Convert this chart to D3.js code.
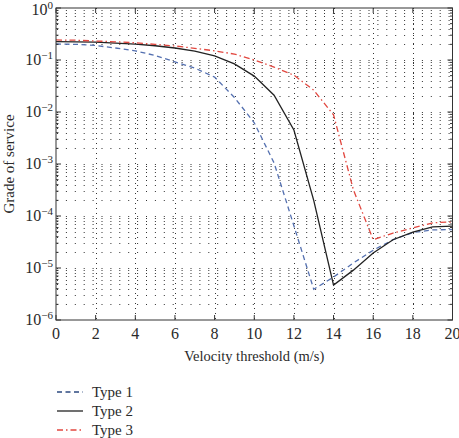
<!DOCTYPE html>
<html>
<head>
<meta charset="utf-8">
<script src="https://cdn.jsdelivr.net/npm/d3@7"></script>
<style>
  body { margin: 0; background: #fff; }
  svg { display: block; }
  text { font-family: "Liberation Serif", "DejaVu Serif", serif; fill: #2a2a2a; }
</style>
</head>
<body>
<svg id="chart" width="459" height="438"></svg>
<script>
// valori (un punto per ogni m/s)
const velocity = d3.range(0, 21);
const type1 = [0.203, 0.200, 0.190, 0.170, 0.150, 0.122, 0.092, 0.070, 0.047, 0.019, 6.2e-3,
    1.05e-3, 6.5e-5, 3.9e-6, 6.7e-6, 1.25e-5, 2.2e-5, 3.5e-5, 4.8e-5, 5.4e-5, 5.5e-5];
const type2 = [0.225, 0.224, 0.220, 0.212, 0.202, 0.188, 0.170, 0.148, 0.120, 0.084, 0.049,
    0.021, 4.5e-3, 2.0e-4, 4.7e-6, 9.1e-6, 1.95e-5, 3.5e-5, 4.9e-5, 6.2e-5, 6.4e-5];
const type3 = [0.243, 0.240, 0.232, 0.224, 0.214, 0.200, 0.186, 0.168, 0.150, 0.130, 0.100,
    0.073, 0.051, 0.0263, 8.8e-3, 3.2e-4, 3.5e-5, 4.7e-5, 5.9e-5, 7.4e-5, 7.7e-5];
const xTicks = [0, 2, 4, 6, 8, 10, 12, 14, 16, 18, 20];
const yExponents = [0, -1, -2, -3, -4, -5, -6];
const seriesNames = ["Type 1", "Type 2", "Type 3"];

const series = [
    { name: seriesNames[0], values: type1, color: "#5470b0", dash: "5,3.5" },
    { name: seriesNames[1], values: type2, color: "#222", dash: null },
    { name: seriesNames[2], values: type3, color: "#e2473f", dash: "6,3,1.5,3" }
];

const svg = d3.select("#chart");
const pLeft = 56, pRight = 452.5, pTop = 8, pBottom = 320;

const x = d3.scaleLinear().domain([0, 20]).range([pLeft, pRight]);
const y = d3.scaleLog().domain([1e-6, 1]).range([pBottom, pTop]);

// griglia punteggiata (minor su scala log)
let gridVals = [];
for (let e = -6; e < 0; e++) {
    for (let k = 1; k < 10; k++) gridVals.push(k * Math.pow(10, e));
}
const grid = svg.append("g").attr("stroke", "#333").attr("stroke-width", 1);
grid.selectAll("line.h")
    .data(gridVals.filter(v => v > 1e-6))
    .enter().append("line")
    .attr("x1", pLeft).attr("x2", pRight)
    .attr("y1", d => Math.round(y(d)) + 0.5)
    .attr("y2", d => Math.round(y(d)) + 0.5)
    .attr("stroke-dasharray", "1,7.9")
    .attr("stroke-dashoffset", -1);
grid.selectAll("line.v")
    .data(xTicks.slice(1, -1))
    .enter().append("line")
    .attr("x1", d => Math.round(x(d)) + 0.5)
    .attr("x2", d => Math.round(x(d)) + 0.5)
    .attr("y1", pTop).attr("y2", pBottom)
    .attr("stroke-dasharray", "1,4");

// linee
const line = d3.line()
    .x((d, i) => x(velocity[i]))
    .y(d => y(d));

series.forEach(s => {
    svg.append("path")
        .datum(s.values)
        .attr("fill", "none")
        .attr("stroke", s.color)
        .attr("stroke-width", 1.3)
        .attr("stroke-dasharray", s.dash)
        .attr("d", line);
});

// box e tacche interne
const axes = svg.append("g").attr("stroke", "#333").attr("stroke-width", 1).attr("fill", "none");
axes.append("rect")
    .attr("x", pLeft).attr("y", pTop)
    .attr("width", pRight - pLeft).attr("height", pBottom - pTop);

xTicks.forEach(t => {
    axes.append("line").attr("x1", x(t)).attr("x2", x(t)).attr("y1", pBottom).attr("y2", pBottom - 5);
    axes.append("line").attr("x1", x(t)).attr("x2", x(t)).attr("y1", pTop).attr("y2", pTop + 5);
});
gridVals.concat([1]).forEach(v => {
    const major = Math.abs(Math.log10(v) - Math.round(Math.log10(v))) < 1e-9;
    const len = major ? 5 : 2.5;
    axes.append("line").attr("x1", pLeft).attr("x2", pLeft + len).attr("y1", y(v)).attr("y2", y(v));
    axes.append("line").attr("x1", pRight).attr("x2", pRight - len).attr("y1", y(v)).attr("y2", y(v));
});

// etichette asse x
svg.append("g").selectAll("text")
    .data(xTicks)
    .enter().append("text")
    .attr("x", d => x(d))
    .attr("y", pBottom + 19)
    .attr("text-anchor", "middle")
    .attr("font-size", 16)
    .text(d => d);

// etichette asse y (10^k)
const yLab = svg.append("g").selectAll("text")
    .data(yExponents)
    .enter().append("text")
    .attr("x", 53)
    .attr("y", d => y(Math.pow(10, d)) + (d === 0 ? 7 : 5))
    .attr("text-anchor", "end")
    .attr("font-size", 16);
yLab.append("tspan").text("10");
yLab.append("tspan")
    .attr("font-size", 11)
    .attr("dy", -6)
    .text(d => d === 0 ? "0" : "\u2212" + Math.abs(d));

svg.append("text")
    .attr("x", (pLeft + pRight) / 2)
    .attr("y", 361)
    .attr("text-anchor", "middle")
    .attr("font-size", 14.5)
    .text("Velocity threshold (m/s)");

svg.append("text")
    .attr("transform", `translate(14,${(pTop + pBottom) / 2}) rotate(-90)`)
    .attr("text-anchor", "middle")
    .attr("font-size", 15)
    .text("Grade of service");

// legenda
const legend = svg.append("g");
series.forEach((s, i) => {
    const ly = 392 + i * 19;
    legend.append("line")
        .attr("x1", 57).attr("x2", 83)
        .attr("y1", ly).attr("y2", ly)
        .attr("stroke", i === 0 ? "#2c4a80" : s.color)
        .attr("stroke-width", 1.3)
        .attr("stroke-dasharray", s.dash);
    legend.append("text")
        .attr("x", 92)
        .attr("y", ly + 5)
        .attr("font-size", 15)
        .text(s.name);
});
</script>
</body>
</html>
